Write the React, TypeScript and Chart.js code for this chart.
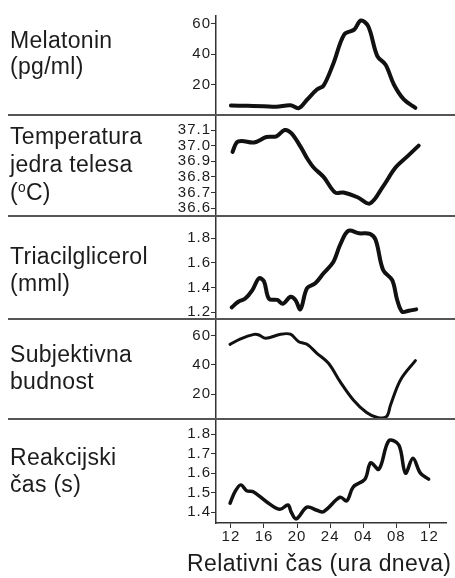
import React, { useEffect, useRef } from "react";
import { Chart, registerables } from "chart.js";

Chart.register(...registerables);

// ---------- data ----------
const xTickHours = [12, 16, 20, 24, 28, 32, 36];
const xTickLabels = ["12", "16", "20", "24", "04", "08", "12"];
const xAxisTitle = "Relativni čas (ura dneva)";

const melatoninHours = [12, 14, 16, 17.5, 19.2, 20.2, 21.2, 22.4, 23.2, 24.4, 25.7, 26.9, 27.7, 28.6, 29.7, 30.7, 31.7, 32.9, 34.3];
const melatoninValues = [6.2, 6, 5.8, 5.4, 6.4, 4.5, 10, 16.7, 19.3, 34, 52.8, 56, 62, 58.2, 38.6, 33, 20, 10.2, 4.7];
const melatoninTicks = [20, 40, 60];

const temperatureHours = [12.2, 12.7, 13.3, 14.8, 16.3, 17.5, 18.5, 19.3, 20.4, 21.2, 22, 23.2, 24.6, 25.6, 27.3, 28.8, 30.4, 31.9, 33.3, 34.7];
const temperatureValues = [36.96, 37.02, 37.03, 37.02, 37.055, 37.06, 37.1, 37.08, 36.995, 36.92, 36.86, 36.8, 36.7, 36.7, 36.67, 36.63, 36.74, 36.86, 36.93, 37.0];
const temperatureTicks = [36.6, 36.7, 36.8, 36.9, 37.0, 37.1];

const triglycerideHours = [12.1, 12.9, 13.7, 14.6, 15.4, 16, 16.6, 17.6, 18.3, 19.2, 19.8, 20.4, 21.2, 22.2, 23.2, 24.4, 25.2, 26.2, 27.5, 28.8, 29.5, 30.4, 31.5, 32.1, 32.7, 33.5, 34.4];
const triglycerideValues = [1.24, 1.286, 1.31, 1.38, 1.476, 1.45, 1.31, 1.3, 1.27, 1.326, 1.3, 1.224, 1.395, 1.435, 1.516, 1.61, 1.746, 1.86, 1.84, 1.835, 1.786, 1.543, 1.46, 1.3, 1.205, 1.213, 1.224];
const triglycerideTicks = [1.2, 1.4, 1.6, 1.8];

const alertnessHours = [11.9, 13.1, 14.8, 15.4, 16.2, 18, 19.2, 20.2, 21.2, 22.4, 23.8, 25.2, 26.8, 28.4, 29.7, 30.8, 31.3, 32.5, 34.3];
const alertnessValues = [54.1, 57.7, 60.9, 60.5, 58.2, 61, 61, 55.9, 54.1, 48, 41.2, 28.6, 16.1, 7.5, 4.1, 4.7, 12.7, 29.8, 43];
const alertnessTicks = [20, 40, 60];

const reactionHours = [11.9, 12.5, 13.2, 13.9, 14.7, 16.3, 17.9, 18.9, 19.3, 19.9, 21.2, 22.4, 23.2, 25.2, 26, 26.8, 28.2, 28.9, 29.9, 31.1, 32.3, 33.1, 34, 34.9, 35.9];
const reactionValues = [1.446, 1.505, 1.54, 1.51, 1.505, 1.454, 1.415, 1.437, 1.4, 1.366, 1.426, 1.41, 1.403, 1.477, 1.458, 1.53, 1.569, 1.653, 1.62, 1.766, 1.744, 1.6, 1.676, 1.6, 1.569];
const reactionTicks = [1.4, 1.5, 1.6, 1.7, 1.8];

const X_MIN = 10.2;
const X_MAX = 38;

const FONT = "'Liberation Sans', Arial, Helvetica, sans-serif";
const INK = "#1c1c1c";
const AXIS = "#333";

const spacingPlugin = {
  id: "tickSpacing",
  beforeUpdate(chart: any) {
    chart.ctx.letterSpacing = "1px";
  },
  beforeDraw(chart: any) {
    chart.ctx.letterSpacing = "1px";
  },
};

type PanelProps = {
  hours: number[];
  values: number[];
  ticks: number[];
  decimals: number;
  min: number;
  max: number;
  top: number;
  height: number;
  showX: boolean;
  lineWidth: number;
};

function Panel(p: PanelProps) {
  const ref = useRef<HTMLCanvasElement | null>(null);
  useEffect(() => {
    if (!ref.current) return;
    const chart = new Chart(ref.current, {
      type: "line",
      plugins: [spacingPlugin],
      data: {
        datasets: [
          {
            data: p.hours.map((h, i) => ({ x: h, y: p.values[i] })),
            borderColor: "#111",
            borderWidth: p.lineWidth,
            pointRadius: 0,
            tension: 0.35,
            fill: false,
            borderCapStyle: "round",
            borderJoinStyle: "round",
          },
        ],
      },
      options: {
        animation: false,
        responsive: false,
        devicePixelRatio: 1,
        layout: { padding: { left: 0, right: 9, top: 0, bottom: 0 } },
        plugins: { legend: { display: false }, tooltip: { enabled: false } },
        scales: {
          x: {
            type: "linear",
            min: X_MIN,
            max: X_MAX,
            display: p.showX,
            grid: { drawOnChartArea: false, drawTicks: true, tickLength: 5, color: AXIS },
            border: { display: true, color: AXIS, width: 1.5 },
            ticks: {
              font: { family: FONT, size: 15 },
              color: INK,
              padding: 0,
              autoSkip: false,
              maxRotation: 0,
              callback: (v: any) => {
                const i = xTickHours.indexOf(Number(v));
                return i >= 0 ? xTickLabels[i] : "";
              },
            },
            afterBuildTicks: (a: any) => {
              a.ticks = xTickHours.map((v) => ({ value: v }));
            },
            afterFit: (a: any) => {
              if (p.showX) a.height = 32;
              a.paddingLeft = 0;
              a.paddingRight = 0;
            },
          },
          y: {
            type: "linear",
            min: p.min,
            max: p.max,
            grid: { drawOnChartArea: false, drawTicks: true, tickLength: 5, color: AXIS },
            border: { display: true, color: AXIS, width: 1.5 },
            ticks: {
              font: { family: FONT, size: 15 },
              color: INK,
              padding: 0,
              autoSkip: false,
              callback: (v: any) => Number(v).toFixed(p.decimals),
            },
            afterBuildTicks: (a: any) => {
              a.ticks = p.ticks.map((v) => ({ value: v }));
            },
            afterFit: (a: any) => {
              a.width = 216;
              a.paddingTop = 0;
              a.paddingBottom = 0;
            },
          },
        },
      } as any,
    });
    return () => chart.destroy();
  }, []);
  return (
    <canvas
      ref={ref}
      width={455}
      height={p.height}
      style={{ position: "absolute", left: 0, top: p.top, width: 455, height: p.height }}
    />
  );
}

const labelStyle = (top: number, lh: number): React.CSSProperties => ({
  position: "absolute",
  left: 10,
  top,
  fontFamily: FONT,
  fontSize: 23,
  letterSpacing: "0.3px",
  lineHeight: lh + "px",
  color: INK,
  whiteSpace: "nowrap",
});

const sepStyle = (top: number): React.CSSProperties => ({
  position: "absolute",
  left: 8,
  top,
  width: 447,
  height: 2,
  background: "#555",
});

export default function App() {
  return (
    <div style={{ position: "absolute", left: 0, top: 0, width: 455, height: 578, background: "#fff", overflow: "hidden" }}>
      <Panel hours={melatoninHours} values={melatoninValues} ticks={melatoninTicks} decimals={0} min={0} max={65.6} top={15} height={100} showX={false} lineWidth={4} />
      <Panel hours={temperatureHours} values={temperatureValues} ticks={temperatureTicks} decimals={1} min={36.55} max={37.196} top={115} height={101} showX={false} lineWidth={4} />
      <Panel hours={triglycerideHours} values={triglycerideValues} ticks={triglycerideTicks} decimals={1} min={1.146} max={1.98} top={216} height={103} showX={false} lineWidth={4} />
      <Panel hours={alertnessHours} values={alertnessValues} ticks={alertnessTicks} decimals={0} min={3.1} max={71.4} top={319} height={100} showX={false} lineWidth={3} />
      <Panel hours={reactionHours} values={reactionValues} ticks={reactionTicks} decimals={1} min={1.345} max={1.877} top={419} height={136} showX={true} lineWidth={3.5} />

      <div style={sepStyle(114)} />
      <div style={sepStyle(215)} />
      <div style={sepStyle(318)} />
      <div style={sepStyle(418)} />

      <div style={labelStyle(27, 26)}>
        Melatonin
        <br />
        (pg/ml)
      </div>
      <div style={labelStyle(122, 28)}>
        Temperatura
        <br />
        jedra telesa
        <br />
        (<span style={{ fontSize: "0.6em", position: "relative", top: "-0.55em" }}>o</span>C)
      </div>
      <div style={labelStyle(243, 27)}>
        Triacilglicerol
        <br />
        (mml)
      </div>
      <div style={labelStyle(341, 27)}>
        Subjektivna
        <br />
        budnost
      </div>
      <div style={labelStyle(444, 27)}>
        Reakcijski
        <br />
        čas (s)
      </div>
      <div style={{ ...labelStyle(550, 27), left: 187, letterSpacing: "0.4px" }}>{xAxisTitle}</div>
    </div>
  );
}
